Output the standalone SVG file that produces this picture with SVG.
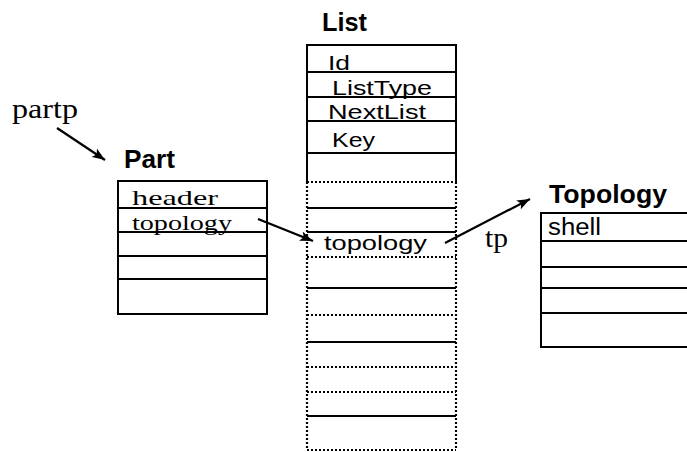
<svg xmlns="http://www.w3.org/2000/svg" width="687" height="452" viewBox="0 0 687 452">
<style>
.box{fill:none;stroke:#000;stroke-width:2}
.ln{stroke:#000;stroke-width:2;fill:none}
.dot{stroke:#000;stroke-width:2.2;stroke-dasharray:2 2;fill:none}
.sans{font-family:"Liberation Sans",Arial,sans-serif;fill:#000}
.serif{font-family:"Liberation Serif","Times New Roman",serif;fill:#000}
.title{font-weight:bold;font-size:25px}
.fld{font-size:21px}
.sf{font-size:22px}
.arr{stroke:#000;stroke-width:2.2;fill:none;marker-end:url(#ah)}
</style>
<defs>
<marker id="ah" markerUnits="userSpaceOnUse" markerWidth="14" markerHeight="10" refX="13" refY="5" orient="auto">
<path d="M0,0 L13,5 L0,10 L3,5 z" fill="#000"/>
</marker>
</defs>
<rect width="687" height="452" fill="#fff"/>

<g id="partp">
<text class="serif" font-size="27" x="12" y="118" textLength="66" lengthAdjust="spacingAndGlyphs">partp</text>
</g>

<g id="part">
<text class="sans title" x="124" y="168" textLength="51" lengthAdjust="spacingAndGlyphs">Part</text>
<rect class="box" x="118" y="181" width="149" height="133"/>
<line class="ln" x1="118" y1="208" x2="267" y2="208"/>
<line class="ln" x1="118" y1="232" x2="267" y2="232"/>
<line class="ln" x1="118" y1="256" x2="267" y2="256"/>
<line class="ln" x1="118" y1="279" x2="267" y2="279"/>
<text class="serif sf" x="132" y="205" textLength="86" lengthAdjust="spacingAndGlyphs">header</text>
<text class="serif sf" x="132" y="230" textLength="100" lengthAdjust="spacingAndGlyphs">topology</text>
</g>

<g id="list">
<text class="sans title" x="322" y="31" textLength="45" lengthAdjust="spacingAndGlyphs">List</text>
<polyline class="ln" points="307,182 307,45 456,45 456,182"/>
<line class="dot" x1="307" y1="182" x2="307" y2="450"/>
<line class="dot" x1="456" y1="182" x2="456" y2="450"/>
<line class="ln" x1="307" y1="72" x2="456" y2="72"/>
<line class="ln" x1="307" y1="97" x2="456" y2="97"/>
<line class="ln" x1="307" y1="121" x2="456" y2="121"/>
<line class="ln" x1="307" y1="153" x2="456" y2="153"/>
<line class="dot" x1="307" y1="182" x2="456" y2="182"/>
<line class="ln" x1="307" y1="208" x2="456" y2="208"/>
<line class="ln" x1="307" y1="232" x2="456" y2="232"/>
<line class="dot" x1="307" y1="257" x2="456" y2="257"/>
<line class="ln" x1="307" y1="288" x2="456" y2="288"/>
<line class="dot" x1="307" y1="315" x2="456" y2="315"/>
<line class="ln" x1="307" y1="342" x2="456" y2="342"/>
<line class="dot" x1="307" y1="367" x2="456" y2="367"/>
<line class="dot" x1="307" y1="392" x2="456" y2="392"/>
<line class="ln" x1="307" y1="416" x2="456" y2="416"/>
<line class="dot" x1="307" y1="450" x2="456" y2="450"/>
<text class="sans fld" x="328" y="70" textLength="22" lengthAdjust="spacingAndGlyphs">Id</text>
<text class="sans fld" x="332" y="95" textLength="100" lengthAdjust="spacingAndGlyphs">ListType</text>
<text class="sans fld" x="328" y="119" textLength="98" lengthAdjust="spacingAndGlyphs">NextList</text>
<text class="sans fld" x="332" y="147" textLength="43" lengthAdjust="spacingAndGlyphs">Key</text>
<text class="sans fld" x="324" y="250" textLength="103" lengthAdjust="spacingAndGlyphs">topology</text>
</g>

<g id="topology">
<text class="sans title" x="549" y="203" textLength="118" lengthAdjust="spacingAndGlyphs">Topology</text>
<polyline class="ln" points="690,213 541,213 541,347 690,347"/>
<line class="ln" x1="541" y1="241" x2="690" y2="241"/>
<line class="ln" x1="541" y1="267" x2="690" y2="267"/>
<line class="ln" x1="541" y1="288" x2="690" y2="288"/>
<line class="ln" x1="541" y1="313" x2="690" y2="313"/>
<text class="sans" font-size="23" x="548" y="235" textLength="53" lengthAdjust="spacingAndGlyphs">shell</text>
</g>

<g id="connectors">
<line class="arr" x1="57" y1="128" x2="105" y2="160"/>
<line class="arr" x1="258" y1="219" x2="313" y2="241"/>
<line class="arr" x1="445" y1="243" x2="530" y2="199"/>
<text class="serif" font-size="28" x="485" y="247" textLength="23" lengthAdjust="spacingAndGlyphs">tp</text>
</g>
</svg>
